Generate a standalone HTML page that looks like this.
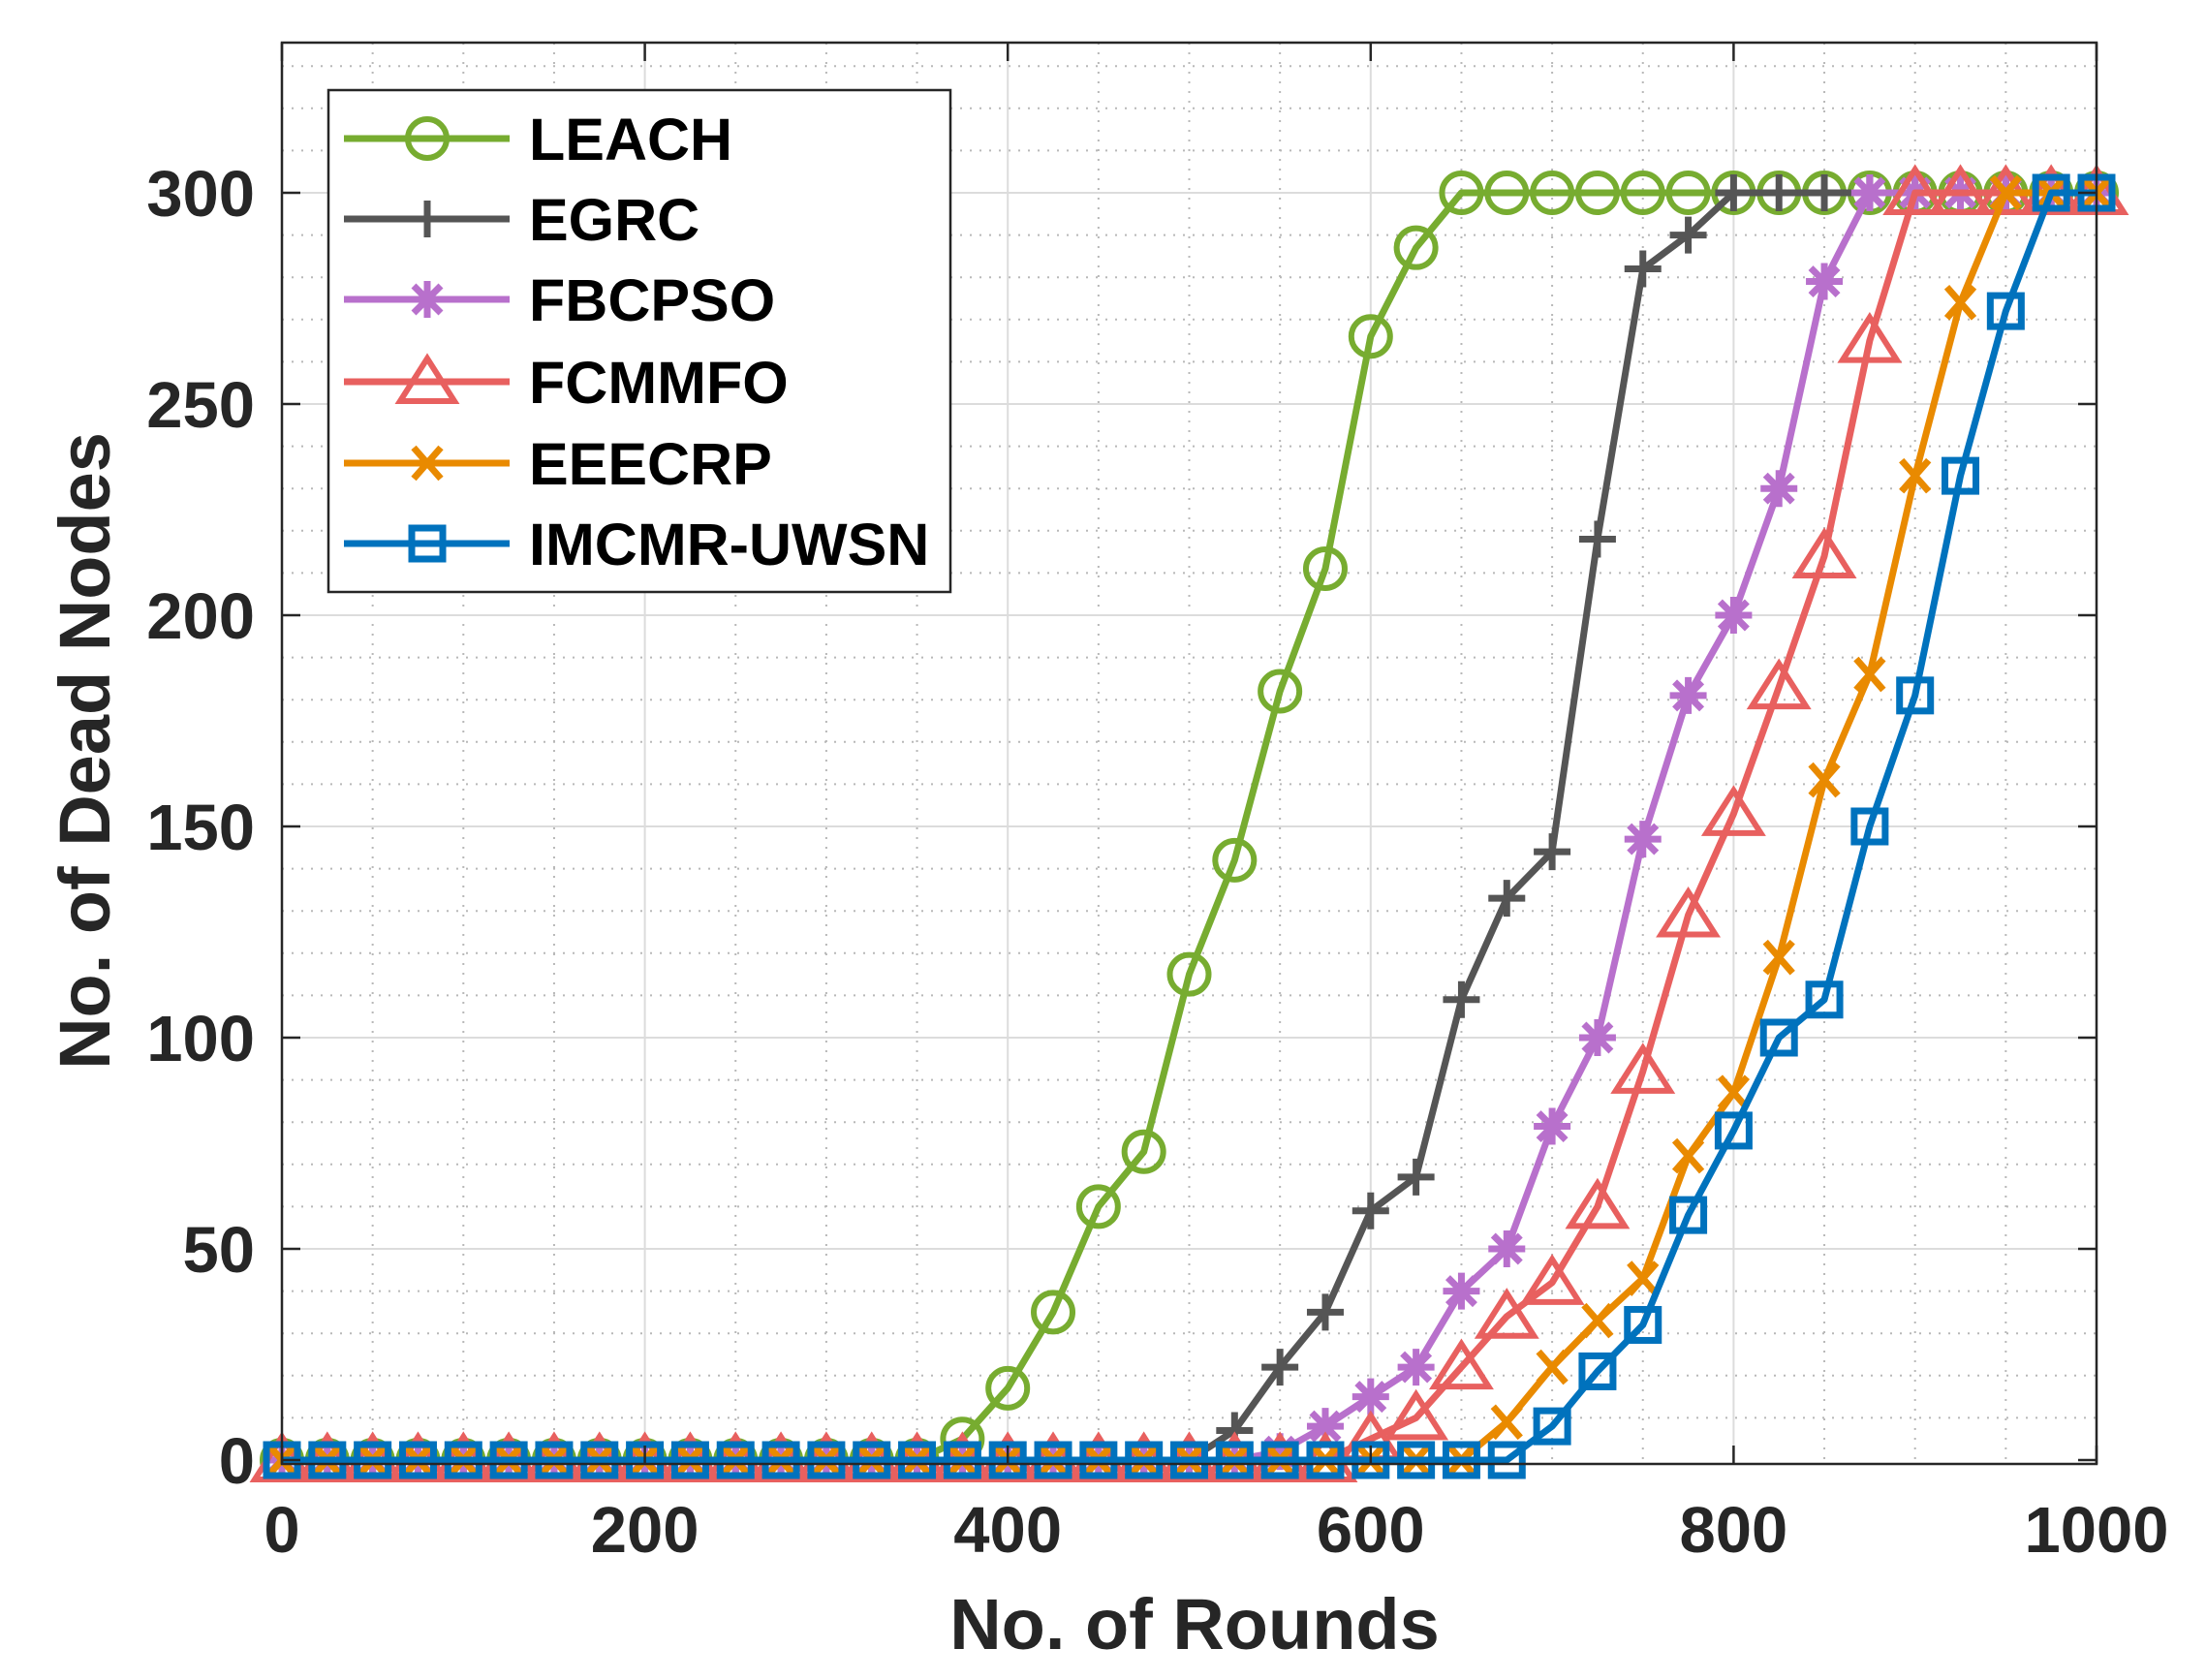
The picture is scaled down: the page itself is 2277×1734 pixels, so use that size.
<!DOCTYPE html>
<html><head><meta charset="utf-8">
<style>
html,body{margin:0;padding:0;background:#fff;}
svg{display:block;}
text{font-family:"Liberation Sans",Arial,sans-serif;font-weight:bold;}
</style></head>
<body>
<svg id="chart" width="2277" height="1734" viewBox="0 0 2277 1734" xmlns="http://www.w3.org/2000/svg">
<rect x="0" y="0" width="2277" height="1734" fill="#fff"/>
<g id="grid"></g>
<g id="series"></g>
<g id="axes"></g>
<g id="legend"></g>
</svg>
<script>
const rounds = [0,25,50,75,100,125,150,175,200,225,250,275,300,325,350,375,400,425,450,475,500,525,550,575,600,625,650,675,700,725,750,775,800,825,850,875,900,925,950,975,1000];
const leach  = [0,0,0,0,0,0,0,0,0,0,0,0,0,0,0,5,17,35,60,73,115,142,182,211,266,287,300,300,300,300,300,300,300,300,300,300,300,300,300,300,300];
const egrc   = [0,0,0,0,0,0,0,0,0,0,0,0,0,0,0,0,0,0,0,0,0,7,22,35,59,67,109,133,144,218,282,290,300,300,300,300,300,300,300,300,300];
const fbcpso = [0,0,0,0,0,0,0,0,0,0,0,0,0,0,0,0,0,0,0,0,0,0,2,8,15,22,40,50,79,100,147,181,200,230,279,300,300,300,300,300,300];
const fcmmfo = [0,0,0,0,0,0,0,0,0,0,0,0,0,0,0,0,0,0,0,0,0,0,0,0,5,10,22,34,42,60,92,129,153,183,214,265,300,300,300,300,300];
const eecrp  = [0,0,0,0,0,0,0,0,0,0,0,0,0,0,0,0,0,0,0,0,0,0,0,0,0,0,0,9,22,33,43,72,87,119,161,186,233,274,300,300,300];
const imcmr  = [0,0,0,0,0,0,0,0,0,0,0,0,0,0,0,0,0,0,0,0,0,0,0,0,0,0,0,0,8,21,32,58,78,100,109,150,181,233,272,300,300];
const seriesNames = ["LEACH","EGRC","FBCPSO","FCMMFO","EEECRP","IMCMR-UWSN"];
const xTicks = [0,200,400,600,800,1000];
const yTicks = [0,50,100,150,200,250,300];

const NS="http://www.w3.org/2000/svg";
const L=291,R=2164,T=44,B=1511;
const XMIN=0,XMAX=1000,Y0PIX=1507,YPU=4.36;
function sx(v){return L+(v-XMIN)/(XMAX-XMIN)*(R-L);}
function sy(v){return Y0PIX-v*YPU;}
function mk(tag,attrs,parent){const e=document.createElementNS(NS,tag);for(const k in attrs)e.setAttribute(k,attrs[k]);parent.appendChild(e);return e;}

const grid=document.getElementById('grid');
for(let v=50;v<1000;v+=50){ if(v%200===0) continue;
  const l=mk('line',{x1:sx(v),x2:sx(v),y1:T,y2:B,stroke:'#b8b8b8','stroke-width':2,'stroke-dasharray':'2 8'},grid);
  
  
}
for(let v=10;v<=335;v+=10){ if(v%50===0) continue;
  const l=mk('line',{x1:L,x2:R,y1:sy(v),y2:sy(v),stroke:'#b8b8b8','stroke-width':2,'stroke-dasharray':'2 8'},grid);
  
  
}
xTicks.forEach(v=>{ if(v===0||v===1000) return;
  const l=mk('line',{x1:sx(v),x2:sx(v),y1:T,y2:B,stroke:'#dcdcdc','stroke-width':2},grid);
  
  
});
yTicks.forEach(v=>{ if(v===0) return;
  const l=mk('line',{x1:L,x2:R,y1:sy(v),y2:sy(v),stroke:'#dcdcdc','stroke-width':2},grid);
  
  
});

function marker(type,x,y,color,g){
  const sw=6;
  if(type==='o'){ mk('circle',{cx:x,cy:y,r:20,fill:'none',stroke:color,'stroke-width':sw},g); }
  else if(type==='+'){ mk('path',{d:`M${x-19},${y}H${x+19}M${x},${y-19}V${y+19}`,stroke:color,'stroke-width':sw+1,fill:'none'},g); }
  else if(type==='*'){ let d=`M${x-19},${y}H${x+19}M${x},${y-19}V${y+19}`;
    d+=`M${x-14},${y-14}L${x+14},${y+14}M${x-14},${y+14}L${x+14},${y-14}`;
    mk('path',{d:d,stroke:color,'stroke-width':sw+1,fill:'none'},g); }
  else if(type==='^'){ mk('path',{d:`M${x},${y-24}L${x+28},${y+20}L${x-28},${y+20}Z`,stroke:color,'stroke-width':sw,fill:'none','stroke-linejoin':'miter'},g); }
  else if(type==='x'){ mk('path',{d:`M${x-14},${y-16}L${x+14},${y+16}M${x-14},${y+16}L${x+14},${y-16}`,stroke:color,'stroke-width':sw+1,fill:'none'},g); }
  else if(type==='s'){ mk('rect',{x:x-16,y:y-16,width:32,height:32,stroke:color,'stroke-width':sw+1,fill:'none'},g); }
}
const cfg=[
  {data:leach,color:'#77AC30',m:'o',name:'leach'},
  {data:egrc,color:'#555555',m:'+',name:'egrc'},
  {data:fbcpso,color:'#B870CC',m:'*',name:'fbcpso'},
  {data:fcmmfo,color:'#E8605F',m:'^',name:'fcmmfo'},
  {data:eecrp,color:'#E98A00',m:'x',name:'eecrp'},
  {data:imcmr,color:'#0072BD',m:'s',name:'imcmr-uwsn'}
];
const sg=document.getElementById('series');
cfg.forEach(c=>{
  const g=mk('g',{},sg);
  
  
  const pts=rounds.map((r,i)=>sx(r)+','+sy(c.data[i])).join(' ');
  const pl=mk('polyline',{points:pts,fill:'none',stroke:c.color,'stroke-width':7,'stroke-linejoin':'round'},g);
  
  
  rounds.forEach((r,i)=>marker(c.m,sx(r),sy(c.data[i]),c.color,g));
});

const ax=document.getElementById('axes');
const box=mk('rect',{x:L,y:T,width:R-L,height:B-T,fill:'none',stroke:'#262626','stroke-width':2.5},ax);


xTicks.forEach(v=>{
  mk('line',{x1:sx(v),x2:sx(v),y1:B,y2:B-19,stroke:'#262626','stroke-width':2.5},ax);
  mk('line',{x1:sx(v),x2:sx(v),y1:T,y2:T+19,stroke:'#262626','stroke-width':2.5},ax);
  const t=mk('text',{x:sx(v),y:1602,'font-size':67,'text-anchor':'middle',fill:'#262626'},ax);
  t.textContent=v;
  
  
});
yTicks.forEach(v=>{
  mk('line',{x1:L,x2:L+19,y1:sy(v),y2:sy(v),stroke:'#262626','stroke-width':2.5},ax);
  mk('line',{x1:R,x2:R-19,y1:sy(v),y2:sy(v),stroke:'#262626','stroke-width':2.5},ax);
  const t=mk('text',{x:263,y:sy(v)+24,'font-size':67,'text-anchor':'end',fill:'#262626'},ax);
  t.textContent=v;
  
  
});
const xt=mk('text',{x:1233,y:1702,'font-size':74,'text-anchor':'middle',fill:'#262626'},ax);
xt.textContent='No. of Rounds';


const yt=mk('text',{x:0,y:0,'font-size':74,'text-anchor':'middle',fill:'#262626',transform:'translate(113,775) rotate(-90)'},ax);
yt.textContent='No. of Dead Nodes';



const lg=document.getElementById('legend');
const lb=mk('rect',{x:339,y:93,width:642,height:518,fill:'#fff',stroke:'#262626','stroke-width':2.5},lg);


const ly=[143,226,309,394,478,561];
cfg.forEach((c,i)=>{
  const g=mk('g',{},lg);
  
  
  mk('line',{x1:355,x2:526,y1:ly[i],y2:ly[i],stroke:c.color,'stroke-width':7},g);
  marker(c.m,441,ly[i],c.color,g);
  const t=mk('text',{x:546,y:ly[i]+22,'font-size':61,fill:'#000'},g);
  t.textContent=seriesNames[i];
});
</script>
</body></html>
